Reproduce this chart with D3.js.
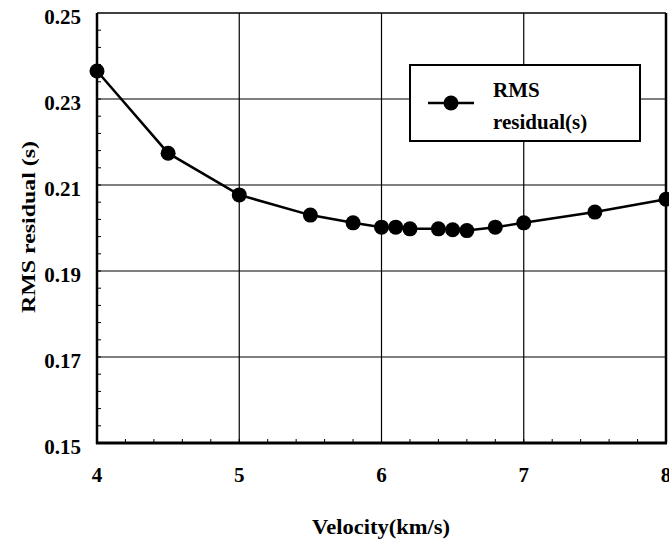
<!DOCTYPE html>
<html>
<head>
<meta charset="utf-8">
<script src="https://cdn.jsdelivr.net/npm/d3@7"></script>
<style>
  body { margin: 0; background: #fff; }
  svg { display: block; }
  text { font-family: "Liberation Serif", "Times New Roman", serif; font-weight: bold; fill: #000; }
</style>
</head>
<body>
<svg width="669" height="541"></svg>
<script>
var velocity = [4.0, 4.5, 5.0, 5.5, 5.8, 6.0, 6.1, 6.2, 6.4, 6.5, 6.6, 6.8, 7.0, 7.5, 8.0];
var rmsResidual = [0.2365, 0.2174, 0.2077, 0.2030, 0.2012, 0.2002, 0.2002, 0.1998, 0.1998, 0.1996, 0.1994, 0.2002, 0.2012, 0.2037, 0.2067];
var xTicks = [4, 5, 6, 7, 8];
var yTicks = [0.15, 0.17, 0.19, 0.21, 0.23, 0.25];

var svg = d3.select("svg");
var plotLeft = 97, plotRight = 666, plotTop = 13, plotBottom = 443;

var x = d3.scaleLinear().domain([4, 8]).range([plotLeft, plotRight]);
var y = d3.scaleLinear().domain([0.15, 0.25]).range([plotBottom, plotTop]);

// grid lines
svg.selectAll(".vgrid")
    .data([5, 6, 7])
    .enter().append("line")
    .attr("x1", function (d) { return x(d); })
    .attr("x2", function (d) { return x(d); })
    .attr("y1", plotTop).attr("y2", plotBottom)
    .attr("stroke", "#000").attr("stroke-width", 1.2);

svg.selectAll(".hgrid")
    .data([0.17, 0.19, 0.21, 0.23])
    .enter().append("line")
    .attr("x1", plotLeft).attr("x2", plotRight)
    .attr("y1", function (d) { return y(d); })
    .attr("y2", function (d) { return y(d); })
    .attr("stroke", "#000").attr("stroke-width", 1.2);

// minor ticks (inside)
var yMinor = d3.range(0.154, 0.25, 0.004);
svg.selectAll(".ymin")
    .data(yMinor)
    .enter().append("line")
    .attr("x1", plotLeft).attr("x2", plotLeft + 4)
    .attr("y1", function (d) { return y(d); })
    .attr("y2", function (d) { return y(d); })
    .attr("stroke", "#000").attr("stroke-width", 1);

var xMinor = d3.range(4.2, 8, 0.2);
svg.selectAll(".xmin")
    .data(xMinor)
    .enter().append("line")
    .attr("x1", function (d) { return x(d); })
    .attr("x2", function (d) { return x(d); })
    .attr("y1", plotBottom).attr("y2", plotBottom - 4)
    .attr("stroke", "#000").attr("stroke-width", 1);

// frame
svg.append("line").attr("x1", plotLeft).attr("x2", plotRight).attr("y1", plotTop).attr("y2", plotTop)
    .attr("stroke", "#000").attr("stroke-width", 1.5);
svg.append("line").attr("x1", plotRight).attr("x2", plotRight).attr("y1", plotTop).attr("y2", plotBottom)
    .attr("stroke", "#000").attr("stroke-width", 2.5);
svg.append("line").attr("x1", plotLeft).attr("x2", plotLeft).attr("y1", plotTop).attr("y2", plotBottom + 1)
    .attr("stroke", "#000").attr("stroke-width", 2.5);
svg.append("line").attr("x1", plotLeft - 1).attr("x2", plotRight + 1).attr("y1", plotBottom).attr("y2", plotBottom)
    .attr("stroke", "#000").attr("stroke-width", 3);

// tick labels
svg.selectAll(".ylab")
    .data(yTicks)
    .enter().append("text")
    .attr("x", 81)
    .attr("y", function (d) { return y(d) + 11; })
    .attr("text-anchor", "end")
    .attr("font-size", 21)
    .text(function (d) { return d.toFixed(2); });

svg.selectAll(".xlab")
    .data(xTicks)
    .enter().append("text")
    .attr("x", function (d) { return x(d); })
    .attr("y", 482)
    .attr("text-anchor", "middle")
    .attr("font-size", 21)
    .text(function (d) { return d; });

// axis titles
svg.append("text")
    .attr("x", 381).attr("y", 534)
    .attr("text-anchor", "middle")
    .attr("font-size", 21)
    .attr("textLength", 138).attr("lengthAdjust", "spacingAndGlyphs")
    .text("Velocity(km/s)");

svg.append("text")
    .attr("transform", "translate(35,227) rotate(-90)")
    .attr("text-anchor", "middle")
    .attr("font-size", 19)
    .attr("textLength", 172).attr("lengthAdjust", "spacingAndGlyphs")
    .text("RMS residual (s)");

// data line and markers
var line = d3.line()
    .x(function (d, i) { return x(velocity[i]); })
    .y(function (d) { return y(d); });

svg.append("path")
    .datum(rmsResidual)
    .attr("d", line)
    .attr("fill", "none")
    .attr("stroke", "#000")
    .attr("stroke-width", 2.5);

svg.selectAll(".pt")
    .data(rmsResidual)
    .enter().append("circle")
    .attr("cx", function (d, i) { return x(velocity[i]); })
    .attr("cy", function (d) { return y(d); })
    .attr("r", 7.5)
    .attr("fill", "#000");

// legend
var lg = svg.append("g");
lg.append("rect")
    .attr("x", 410).attr("y", 65)
    .attr("width", 230).attr("height", 76)
    .attr("fill", "#fff")
    .attr("stroke", "#000").attr("stroke-width", 2);
lg.append("line")
    .attr("x1", 428).attr("x2", 474).attr("y1", 103).attr("y2", 103)
    .attr("stroke", "#000").attr("stroke-width", 2.5);
lg.append("circle")
    .attr("cx", 451).attr("cy", 103).attr("r", 7.5).attr("fill", "#000");
lg.append("text")
    .attr("x", 493).attr("y", 97)
    .attr("font-size", 21)
    .text("RMS");
lg.append("text")
    .attr("x", 493).attr("y", 129)
    .attr("font-size", 21)
    .text("residual(s)");
</script>
</body>
</html>
